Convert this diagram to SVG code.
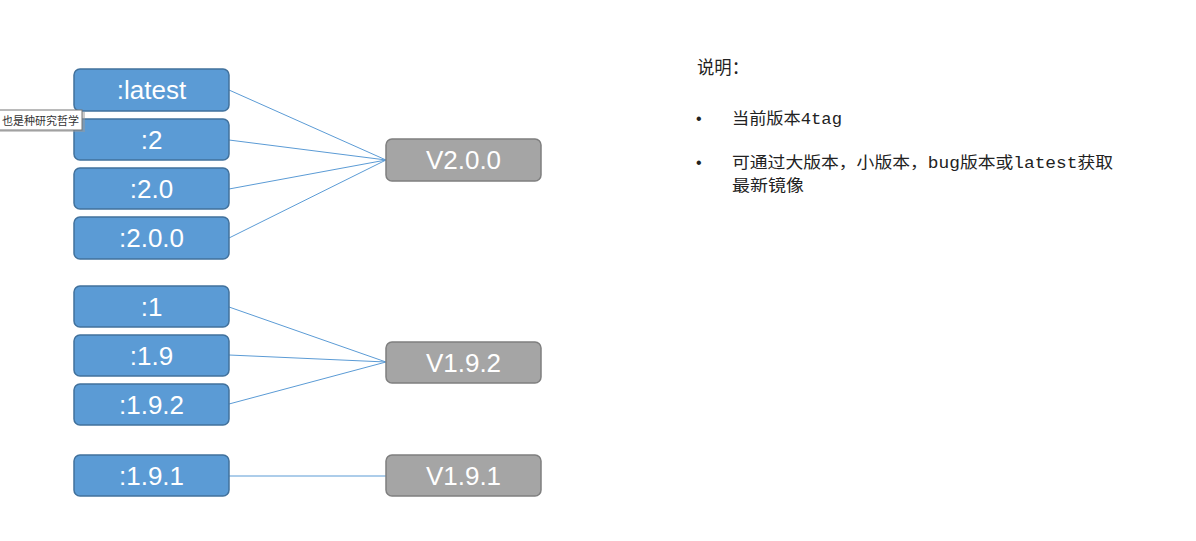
<svg xmlns="http://www.w3.org/2000/svg" width="1196" height="541" viewBox="0 0 1196 541">
<style>
.tag rect{fill:#5B9BD5;stroke:#41719C;stroke-width:1.5}
.ver rect{fill:#A5A5A5;stroke:#7F7F7F;stroke-width:1.5}
.lbl{font-family:"Liberation Sans",Arial,sans-serif;font-size:26px;fill:#fff;text-anchor:middle}
.con line{stroke:#5B9BD5;stroke-width:1}
.note{font-family:"Liberation Mono","Noto Sans CJK SC",monospace;fill:#222}
</style>
<rect width="1196" height="541" fill="#fff"/>
<g class="con">
<line x1="229" y1="90" x2="386" y2="160"/>
<line x1="229" y1="140" x2="386" y2="160"/>
<line x1="229" y1="189" x2="386" y2="160"/>
<line x1="229" y1="238" x2="386" y2="160"/>
<line x1="229" y1="307" x2="386" y2="362"/>
<line x1="229" y1="355" x2="386" y2="362"/>
<line x1="229" y1="404" x2="386" y2="362"/>
<line x1="229" y1="476" x2="386" y2="476"/>
</g>
<g id="n-latest" class="tag"><rect x="74" y="69" width="155" height="42" rx="6"/><text class="lbl" x="151.5" y="99">:latest</text></g>
<g id="n-2" class="tag"><rect x="74" y="119" width="155" height="41" rx="6"/><text class="lbl" x="151.5" y="149">:2</text></g>
<g id="n-2-0" class="tag"><rect x="74" y="168" width="155" height="41" rx="6"/><text class="lbl" x="151.5" y="198">:2.0</text></g>
<g id="n-2-0-0" class="tag"><rect x="74" y="217" width="155" height="42" rx="6"/><text class="lbl" x="151.5" y="247">:2.0.0</text></g>
<g id="n-1" class="tag"><rect x="74" y="286" width="155" height="41" rx="6"/><text class="lbl" x="151.5" y="316">:1</text></g>
<g id="n-1-9" class="tag"><rect x="74" y="335" width="155" height="41" rx="6"/><text class="lbl" x="151.5" y="365">:1.9</text></g>
<g id="n-1-9-2" class="tag"><rect x="74" y="384" width="155" height="41" rx="6"/><text class="lbl" x="151.5" y="414">:1.9.2</text></g>
<g id="n-1-9-1" class="tag"><rect x="74" y="455" width="155" height="41" rx="6"/><text class="lbl" x="151.5" y="485">:1.9.1</text></g>
<g id="v-2-0-0" class="ver"><rect x="386" y="139" width="155" height="42" rx="6"/><text class="lbl" x="463.5" y="169">V2.0.0</text></g>
<g id="v-1-9-2" class="ver"><rect x="386" y="342" width="155" height="41" rx="6"/><text class="lbl" x="463.5" y="372">V1.9.2</text></g>
<g id="v-1-9-1" class="ver"><rect x="386" y="455" width="155" height="41" rx="6"/><text class="lbl" x="463.5" y="485">V1.9.1</text></g>
<g id="tooltip">
<rect x="-10" y="112" width="95" height="20" fill="#999" opacity="0.5"/>
<rect x="-12" y="110" width="94" height="20" fill="#fff" stroke="#767676" stroke-width="1"/>
<text x="2" y="125" font-family="'Noto Sans CJK SC',sans-serif" font-size="11.5" fill="#333" textLength="77" lengthAdjust="spacingAndGlyphs">也是种研究哲学</text>
</g>
<g id="notes" class="note">
<text x="697" y="74" font-size="18" textLength="52" lengthAdjust="spacingAndGlyphs">说明：</text>
<text x="694" y="124" font-size="16">•</text>
<text x="732" y="124" font-size="16" textLength="110" lengthAdjust="spacingAndGlyphs">当前版本4tag</text>
<text x="694" y="168" font-size="16">•</text>
<text x="732" y="168" font-size="16" textLength="381" lengthAdjust="spacingAndGlyphs">可通过大版本，小版本，bug版本或latest获取</text>
<text x="732" y="191" font-size="16" textLength="72" lengthAdjust="spacingAndGlyphs">最新镜像</text>
</g>
</svg>
